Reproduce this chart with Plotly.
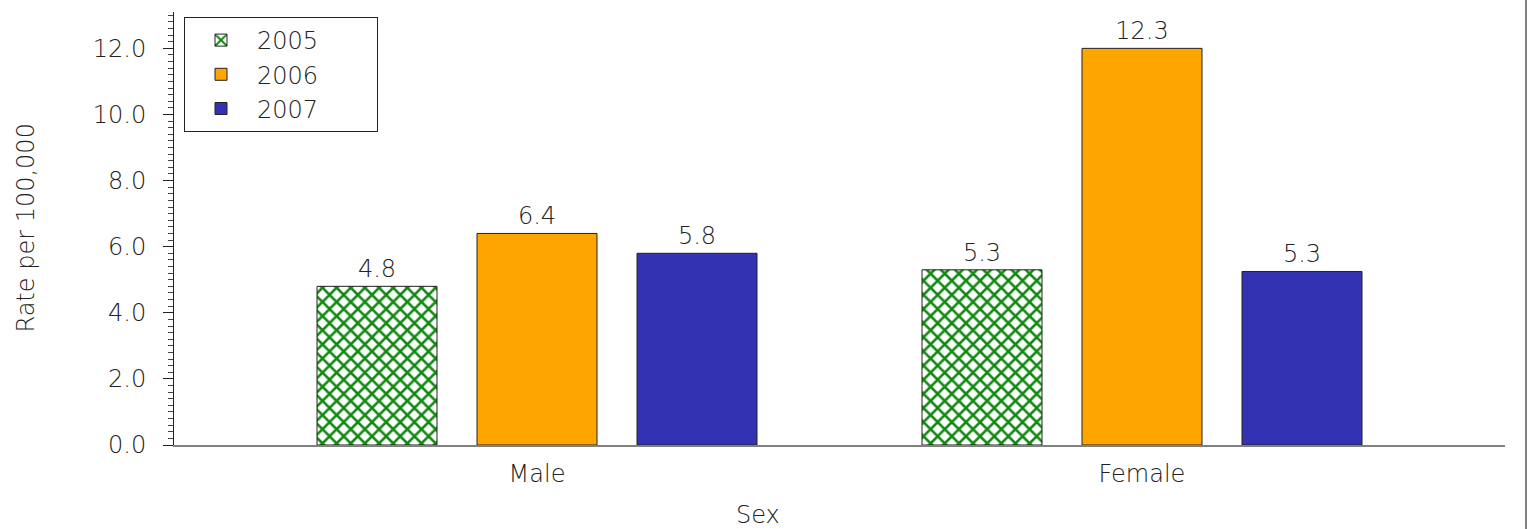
import plotly.graph_objects as go

categories = ["Male", "Female"]
years = ["2005", "2006", "2007"]
# bar heights
rate_2005 = [4.8, 5.3]
rate_2006 = [6.4, 12.0]
rate_2007 = [5.8, 5.25]
# printed labels
label_2005 = ["4.8", "5.3"]
label_2006 = ["6.4", "12.3"]
label_2007 = ["5.8", "5.3"]

FONT = "DejaVu Sans"
TXT = "#222222"
FS = 24
WT = 200

W, H = 1530, 529
ML, MR, MT, MB = 174, 25, 12, 84
PW, PH = W - ML - MR, H - MT - MB

def f(size=FS):
    return dict(family=FONT, size=size, color=TXT, weight=WT)

PAD = "\u00a0" * 7

fig = go.Figure()
fig.add_trace(go.Bar(
    x=categories, y=rate_2005, name=years[0] + PAD, text=label_2005,
    marker=dict(color="white", line=dict(color="#222", width=1),
                pattern=dict(shape="x", fgcolor="#128a12", bgcolor="white",
                             fgopacity=1, size=10, solidity=0.45)),
))
fig.add_trace(go.Bar(
    x=categories, y=rate_2006, name=years[1] + PAD, text=label_2006,
    marker=dict(color="#FFA500", line=dict(color="#222", width=1)),
))
fig.add_trace(go.Bar(
    x=categories, y=rate_2007, name=years[2] + PAD, text=label_2007,
    marker=dict(color="#3232B2", line=dict(color="#222", width=1)),
))
fig.update_traces(textposition="outside", cliponaxis=False, textfont=f())

fig.update_layout(
    width=W, height=H,
    margin=dict(l=ML, r=MR, t=MT, b=MB, autoexpand=False),
    paper_bgcolor="white", plot_bgcolor="white",
    barmode="group", bargap=0.2066, bargroupgap=0.25,
    font=f(),
    showlegend=True,
    legend=dict(x=(184 - ML) / PW, y=(445 - 17) / PH, xanchor="left", yanchor="top",
                bordercolor="#222", borderwidth=1, bgcolor="white",
                font=f(), tracegroupgap=0, itemwidth=62),
    xaxis=dict(range=[-0.6, 1.6], showline=True, linecolor="#808080", linewidth=2,
               ticks="", showgrid=False, zeroline=False, automargin=False,
               ticklabelstandoff=6, tickfont=f()),
    yaxis=dict(range=[0, 13.1], showline=True, linecolor="#222", linewidth=1,
               ticks="outside", ticklen=10, tickcolor="#222", tickwidth=1,
               tickvals=[0, 2, 4, 6, 8, 10, 12], tickformat=".1f",
               minor=dict(dtick=0.2, ticks="outside", ticklen=5, tickcolor="#444", tickwidth=1),
               showgrid=False, zeroline=False, automargin=False,
               ticklabelstandoff=12, tickfont=f()),
    annotations=[
        dict(text="Sex", x=(758 - ML) / PW, y=0, xref="paper", yref="paper",
             yshift=-70, showarrow=False, yanchor="middle", font=f()),
        dict(text="Rate per 100,000", x=(25 - ML) / PW, y=0.5, xref="paper", yref="paper",
             textangle=-90, showarrow=False, xanchor="center", yanchor="middle", font=f()),
    ],
    shapes=[dict(type="line", xref="paper", yref="paper",
                 x0=(1526 - ML) / PW, x1=(1526 - ML) / PW,
                 y0=-MB / PH, y1=1 + MT / PH,
                 line=dict(color="#808080", width=2))],
)

fig.write_html("out.html", config={"displayModeBar": False},
               post_script="document.body.style.margin='0';document.body.style.overflow='hidden';")
